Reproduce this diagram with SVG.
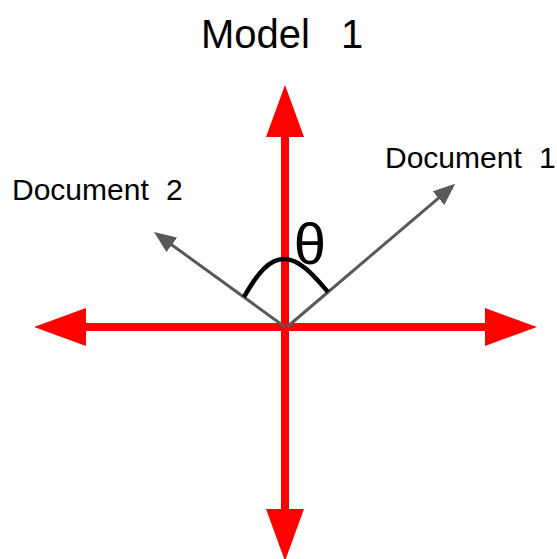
<svg xmlns="http://www.w3.org/2000/svg" width="557" height="559" viewBox="0 0 557 559">
<style>
.txt{font-family:"Liberation Sans",Arial,sans-serif;fill:#000}
.axis{stroke:#ff0000;stroke-width:8;fill:none}
.vec{stroke:#595959;stroke-width:3;fill:none}
</style>
<defs>
<marker id="redhead" markerUnits="userSpaceOnUse" markerWidth="52" markerHeight="38" viewBox="0 0 52 38" refX="0" refY="19" orient="auto-start-reverse">
<path d="M0,0 L52,19 L0,38 Z" fill="#ff0000"/>
</marker>
<marker id="greyhead" markerUnits="userSpaceOnUse" markerWidth="22" markerHeight="18" viewBox="0 0 22 18" refX="2" refY="9" orient="auto">
<path d="M0,0 L22,9 L0,18 Z" fill="#595959"/>
</marker>
</defs>
<rect width="557" height="559" fill="#ffffff"/>
<g id="title"><text class="txt" x="201" y="48" font-size="40" word-spacing="20">Model 1</text></g>
<g id="connectors">
<line class="axis" x1="285" y1="137" x2="285" y2="509" marker-start="url(#redhead)" marker-end="url(#redhead)"/>
<line class="axis" x1="86" y1="327" x2="485" y2="327" marker-start="url(#redhead)" marker-end="url(#redhead)"/>
<line class="vec" x1="287" y1="327" x2="440" y2="196.8" marker-end="url(#greyhead)"/>
<line class="vec" x1="285" y1="327" x2="170.2" y2="243.7" marker-end="url(#greyhead)"/>
<path d="M244,297 C258,272 270,259 284,259 C300,259 314,276 328,292" stroke="#000" stroke-width="4.5" fill="none"/>
</g>
<g id="theta"><text class="txt" x="310" y="264" font-size="58" text-anchor="middle">θ</text></g>
<g id="doc1"><text class="txt" x="385" y="168" font-size="30" word-spacing="9">Document 1</text></g>
<g id="doc2"><text class="txt" x="12" y="200" font-size="30" word-spacing="9">Document 2</text></g>
</svg>
